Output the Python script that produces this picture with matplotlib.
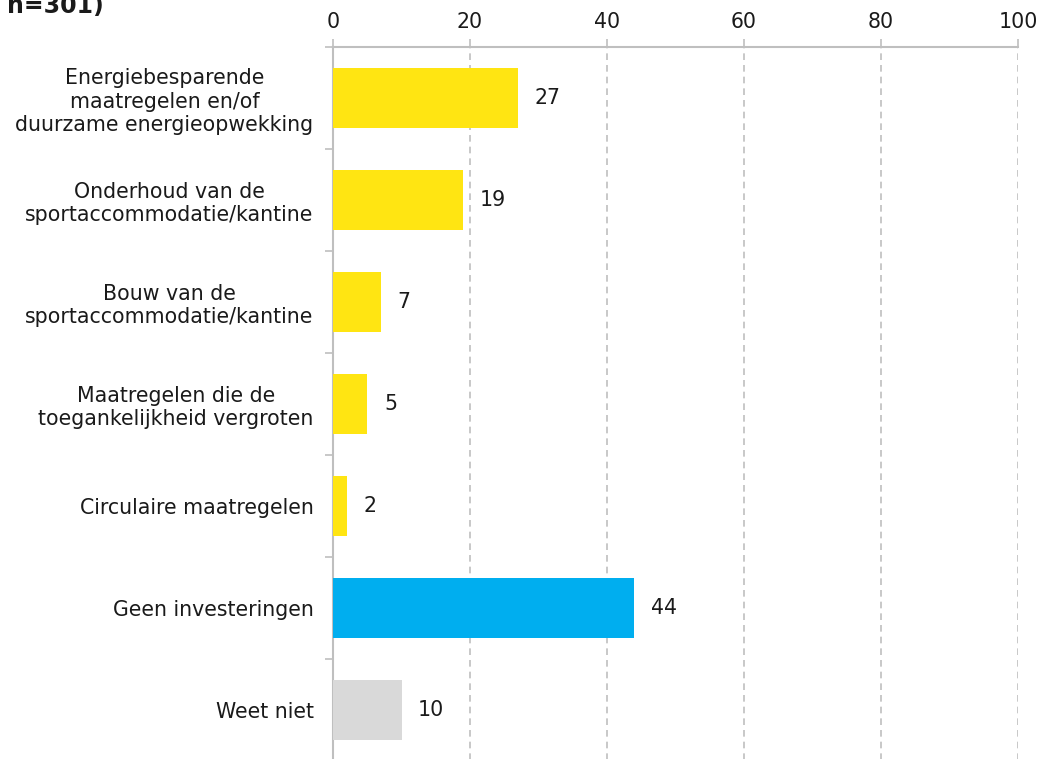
import numpy as np
import matplotlib
matplotlib.use('Agg')
import matplotlib.pyplot as plt

# data
categories = [
    'Energiebesparende\nmaatregelen en/of\nduurzame energieopwekking',
    'Onderhoud van de\nsportaccommodatie/kantine',
    'Bouw van de\nsportaccommodatie/kantine',
    'Maatregelen die de\ntoegankelijkheid vergroten',
    'Circulaire maatregelen',
    'Geen investeringen',
    'Weet niet',
]
values = [27, 19, 7, 5, 2, 44, 10]
bar_colors = ['#FFE512', '#FFE512', '#FFE512', '#FFE512', '#FFE512', '#00AEEF', '#D9D9D9']
x_ticks = [0, 20, 40, 60, 80, 100]

W, H = 1042, 759
FS = 14.8
fig = plt.figure(figsize=(W / 100, H / 100), dpi=100)
ax = fig.add_axes([333 / W, 1 - 761 / H, 685 / W, 714 / H])

y = np.arange(len(categories))
ax.barh(y, values, height=0.59, color=bar_colors, zorder=3)

for yi, v in zip(y, values):
    ax.annotate(str(v), (v, yi), xytext=(12, 0), textcoords='offset points',
                va='center', ha='left', fontsize=FS, color='#1a1a1a')

ax.set_xlim(0, 100)
ax.set_ylim(len(categories) - 0.5, -0.5)

# x axis on top
ax.xaxis.tick_top()
ax.set_xticks(x_ticks)
ax.set_xticklabels([str(t) for t in x_ticks], fontsize=FS, color='#1a1a1a')
ax.tick_params(axis='x', direction='out', length=6, width=1.2, color='#BFBFBF', pad=5)
ax.grid(axis='x', linestyle=(0, (4, 3)), color='#BFBFBF', linewidth=1.2, zorder=0)

# y labels centred on bars, tick marks at category boundaries
ax.set_yticks(y)
ax.set_yticklabels(categories, fontsize=FS, color='#1a1a1a', ha='right',
                   multialignment='center')
ax.tick_params(axis='y', which='major', length=0, pad=14)
ax.set_yticks(np.arange(-0.5, len(categories)), minor=True)
ax.tick_params(axis='y', which='minor', direction='out', length=6, width=1.2, color='#BFBFBF')

for side in ['right', 'bottom']:
    ax.spines[side].set_visible(False)
for side in ['top', 'left']:
    ax.spines[side].set_color('#BFBFBF')
    ax.spines[side].set_linewidth(1.5)

fig.text(7 / W, 1 - 13 / H, 'n=301)', fontsize=17, fontweight='bold',
         va='baseline', ha='left', color='#1a1a1a')

fig.savefig('out.png', dpi=100)
